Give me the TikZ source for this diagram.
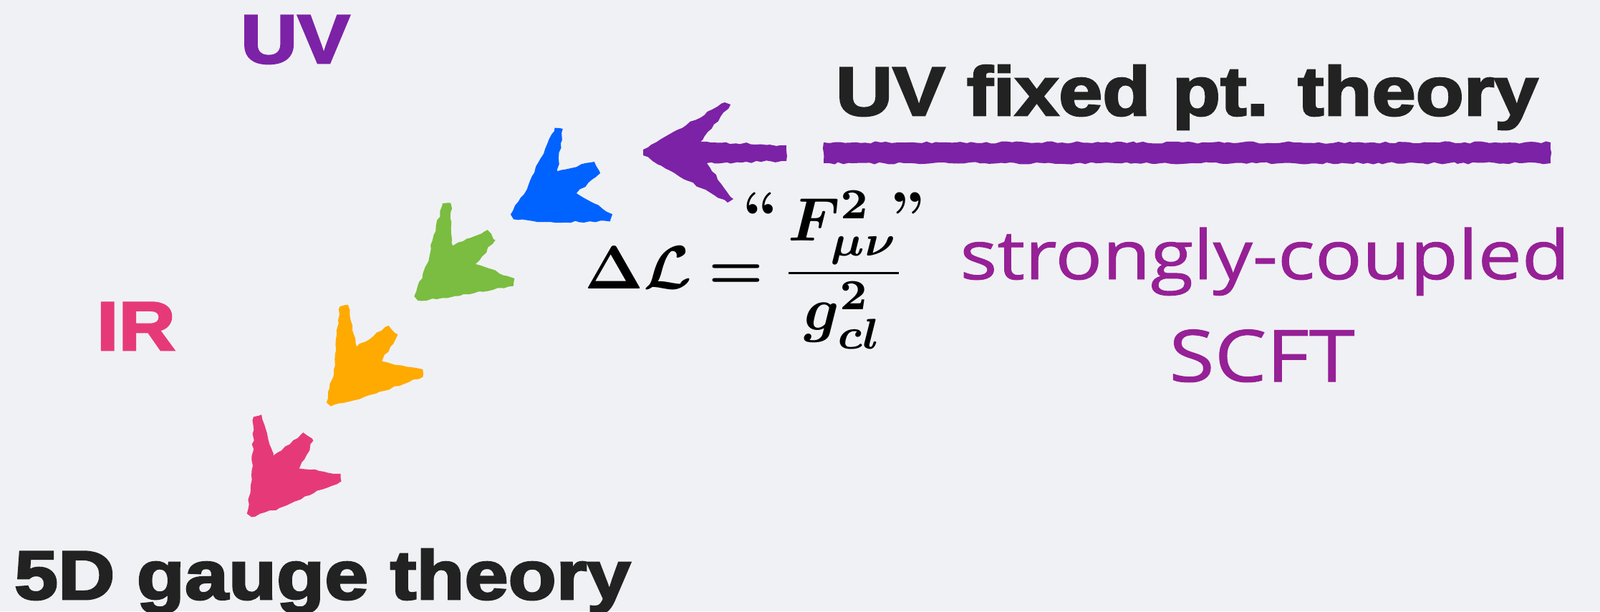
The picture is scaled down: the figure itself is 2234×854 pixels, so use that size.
\documentclass[tikz,border=0pt]{standalone}
\usepackage{amsmath,amssymb,bm}
\usepackage{fontspec}
\usepackage{tikz}
\usetikzlibrary{decorations.pathmorphing}

\newfontfamily\headfont[FakeStretch=1.14,FakeBold=3]{Liberation Sans}
\newfontfamily\handfont[FakeStretch=1.15,FakeBold=1]{Open Sans}

\definecolor{bgpaper}{RGB}{240,241,244}
\definecolor{uvpurple}{RGB}{124,34,166}
\definecolor{chalkblue}{RGB}{0,98,255}
\definecolor{chalkgreen}{RGB}{122,189,64}
\definecolor{chalkorange}{RGB}{255,170,0}
\definecolor{irpink}{RGB}{230,58,120}
\definecolor{handpurple}{RGB}{150,32,150}
\definecolor{inkblack}{RGB}{34,34,34}

\newcommand{\lagrangian}{$\displaystyle\bm{\Delta\mathcal{L}}\bm{=}\frac{\makebox[0pt][r]{\raisebox{1pt}{\textbf{``}}\,}\bm{F}^{\bm{2}}_{\bm{\mu\nu}}\makebox[0pt][l]{\kern-0.15em\raisebox{1pt}{\textbf{''}}}}{\bm{g}^{\bm{2}}_{\bm{cl}}}$}

\tikzset{
	chalk/.style={decorate,decoration={random steps,segment length=2pt,amplitude=0.45pt}},
	pics/chalkarrow/.style={code={
		\fill[#1,chalk] (0,-4) -- (42,-26) -- (115,-76) -- (124,-69) -- (87,-22) -- (138,-7) -- (137,11) -- (94,18) -- (122,69) -- (114,76) -- (33,28) -- (0,4) -- cycle;
	}}
}

\begin{document}
\begin{tikzpicture}[x=0.01cm,y=-0.01cm, every node/.style={inner sep=0pt,outer sep=0pt},
	heading/.style={anchor=base west,font=\headfont\bfseries\fontsize{27.4}{30}\selectfont,text=inkblack},
	hand/.style={anchor=base,font=\handfont\fontsize{27}{30}\selectfont,text=handpurple},
	formula/.style={anchor=base west}]
	
	% Canvas
	\fill[bgpaper] (0,0) rectangle (2234,854);
	\useasboundingbox (0,0) rectangle (2234,854);
	
	% Labels
	\node[heading,text=uvpurple] (uv) at (336,88) {UV};
	\node[heading,text=irpink] (ir) at (135,489) {IR};
	\node[heading] (fixedpt) at (1167,161) {UV fixed pt. theory};
	\node[heading] (gauge) at (20,837) {5D gauge theory};
	\node[formula] (lagr) at (816,403) {\scalebox{2.44}{\lagrangian}};
	\node[hand] (strong) at (1766,390) {strongly-coupled};
	\node[hand,font=\handfont\fontsize{28.5}{30}\selectfont] (scft) at (1762,533) {SCFT};
	
	% Underline and arrows
	\fill[uvpurple,chalk] (1150,199) rectangle (2165,228);
	\fill[uvpurple,chalk] (898,209) -- (1012,143) -- (1020,146) -- (978,198) -- (1098,203) -- (1098,225) -- (987,228) -- (1024,278) -- (1016,283) -- (898,217) -- cycle;
	\pic[rotate=31] at (715,303) {chalkarrow=chalkblue};
	\pic[rotate=41] at (581,417) {chalkarrow=chalkgreen};
	\pic[rotate=50] at (459,565) {chalkarrow=chalkorange};
	\pic[rotate=54] at (348,720) {chalkarrow=irpink};
	
\end{tikzpicture}
\end{document}
